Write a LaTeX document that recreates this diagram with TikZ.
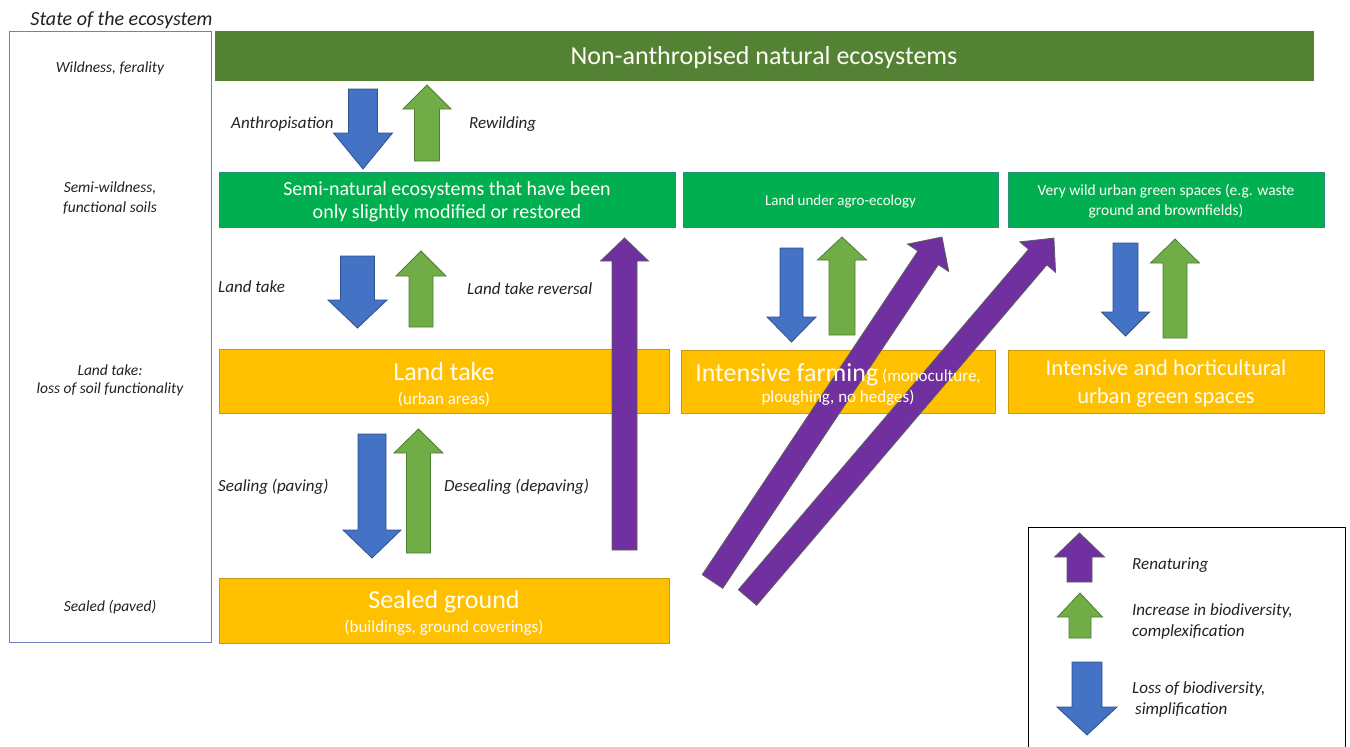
\documentclass[tikz,border=0pt]{standalone}
\usepackage{fontspec}
\setmainfont{Carlito}
\usetikzlibrary{calc}
\definecolor{dkgreen}{HTML}{548235}
\definecolor{mgreen}{HTML}{00B050}
\definecolor{mgreenline}{HTML}{2E8A7A}
\definecolor{amber}{HTML}{FFC000}
\definecolor{amberline}{HTML}{C9980F}
\definecolor{ablue}{HTML}{4472C4}
\definecolor{ablueline}{HTML}{2F528F}
\definecolor{agreen}{HTML}{70AD47}
\definecolor{agreenline}{HTML}{507E32}
\definecolor{apurple}{HTML}{7030A0}
\definecolor{apurpleline}{HTML}{5E5E5E}
\definecolor{sidebox}{HTML}{7080C0}
\definecolor{txtgray}{HTML}{222222}
\definecolor{boxtext}{HTML}{FFFDF5}
% block arrow: #1 style, #2 tail coordinate, #3 tip coordinate,
% #4 shaft half width, #5 head half width, #6 head length
\newcommand\blockarrow[6]{%
  \path let \p1=($(#3)-(#2)$) in \pgfextra{\xdef\bax{\x1}\xdef\bay{\y1}};%
  \pgfmathsetmacro\baL{veclen(\bax,\bay)}%
  \pgfmathsetmacro\baA{atan2(\bay,\bax)}%
  \begin{scope}[shift={(#2)},rotate=\baA,x=1pt,y=1pt]
    \filldraw[#1] (0,-#4) -- ({\baL-#6},-#4) -- ({\baL-#6},-#5) -- (\baL,0)
      -- ({\baL-#6},#5) -- ({\baL-#6},#4) -- (0,#4) -- cycle;
  \end{scope}}
\begin{document}
\begin{tikzpicture}[x=1pt,y=-1pt,
  box/.style={rectangle, inner sep=0pt, line width=0.8pt},
  gbox/.style={box, fill=mgreen, draw=mgreenline},
  ybox/.style={box, fill=amber, draw=amberline},
  btxt/.style={text=boxtext, inner sep=0pt, anchor=base},
  lbl/.style={font=\fontsize{17}{21}\selectfont\itshape, text=txtgray, inner sep=0pt, anchor=base west},
  side/.style={font=\fontsize{15.5}{20}\selectfont\itshape, text=txtgray, inner sep=0pt, anchor=base},
  leg/.style={font=\fontsize{17}{21}\selectfont\itshape, text=txtgray, inner sep=0pt, anchor=base west},
  downarrow/.style={fill=ablue, draw=ablueline, line width=0.8pt},
  uparrow/.style={fill=agreen, draw=agreenline, line width=0.8pt},
  renat/.style={fill=apurple, draw=apurpleline, line width=0.8pt}]
\useasboundingbox (0,0) rectangle (1350,747);
\fill[white] (0,0) rectangle (1350,747);

% left panel
\node[draw=sidebox, line width=1pt, minimum width=202pt, minimum height=611pt, inner sep=0pt] (state) at (110,336.5) {};
\node[font=\fontsize{20}{24}\selectfont\itshape, text=txtgray, inner sep=0pt, anchor=base] (title) at (121.5,25.6) {State of the ecosystem};
\node[side] (s1) at (110,72) {Wildness, ferality};
\node[side] (s2a) at (110,192) {Semi-wildness,};
\node[side] (s2b) at (110,212) {functional soils};
\node[side] (s3a) at (110,375) {Land take:};
\node[side] (s3b) at (110,393) {loss of soil functionality};
\node[side] (s4) at (110,611) {Sealed (paved)};

% boxes
\node[box, fill=dkgreen, draw=dkgreen, minimum width=1098pt, minimum height=49pt] (nat) at (764,55.5) {};
\node[gbox, minimum width=456pt, minimum height=55pt] (semi) at (447,199.5) {};
\node[gbox, minimum width=315pt, minimum height=55pt] (agro) at (840.5,199.5) {};
\node[gbox, minimum width=316pt, minimum height=55pt] (wild) at (1166,199.5) {};
\node[ybox, minimum width=450pt, minimum height=64pt] (take) at (444,381) {};
\node[ybox, minimum width=314pt, minimum height=63pt] (farm) at (838,381.5) {};
\node[ybox, minimum width=316pt, minimum height=63pt] (hort) at (1166,381.5) {};
\node[ybox, minimum width=450pt, minimum height=65pt] (sealed) at (444,610.5) {};

% legend frame
\node[draw=black, line width=1pt, minimum width=317pt, minimum height=240pt, inner sep=0pt] (legend) at (1186.5,647) {};

% arrow end points
\coordinate (a1s) at (363,89);    \coordinate (a1e) at (363,169);
\coordinate (a2s) at (427,161);   \coordinate (a2e) at (427,85);
\coordinate (b1s) at (357.5,256); \coordinate (b1e) at (357.5,328);
\coordinate (b2s) at (421,327);   \coordinate (b2e) at (421,251);
\coordinate (c1s) at (372,434);   \coordinate (c1e) at (372,558);
\coordinate (c2s) at (418.5,553); \coordinate (c2e) at (418.5,429);
\coordinate (d1s) at (791.5,248); \coordinate (d1e) at (791.5,342);
\coordinate (d2s) at (842,335);   \coordinate (d2e) at (842,237);
\coordinate (e1s) at (1125.5,243);\coordinate (e1e) at (1125.5,336);
\coordinate (e2s) at (1175,338);  \coordinate (e2e) at (1175,239);
\coordinate (p1s) at (624.5,550); \coordinate (p1e) at (624.5,238);
\coordinate (p2s) at (712.5,581.5); \coordinate (p2e) at (942,237);
\coordinate (p3s) at (747.5,597.5); \coordinate (p3e) at (1054,238);
\coordinate (l1s) at (1079.5,582); \coordinate (l1e) at (1079.5,533);
\coordinate (l2s) at (1080,638);  \coordinate (l2e) at (1080,593);
\coordinate (l3s) at (1087,662);  \coordinate (l3e) at (1087,735);

\blockarrow{downarrow}{a1s}{a1e}{14.5}{29.5}{36}
\blockarrow{uparrow}{a2s}{a2e}{12.5}{24}{24}
\blockarrow{downarrow}{b1s}{b1e}{17}{29.5}{28}
\blockarrow{uparrow}{b2s}{b2e}{12}{25}{25}
\blockarrow{downarrow}{c1s}{c1e}{14}{29}{28}
\blockarrow{uparrow}{c2s}{c2e}{12}{24.5}{24}
\blockarrow{downarrow}{d1s}{d1e}{11.5}{24.5}{25}
\blockarrow{uparrow}{d2s}{d2e}{13}{24.5}{23}
\blockarrow{downarrow}{e1s}{e1e}{12.5}{24}{24}
\blockarrow{uparrow}{e2s}{e2e}{12}{24.5}{24}
\blockarrow{renat}{p1s}{p1e}{12.5}{24}{23}
\blockarrow{renat}{p2s}{p2e}{12.3}{24.8}{25}
\blockarrow{renat}{p3s}{p3e}{12}{23.5}{25}
\blockarrow{renat}{l1s}{l1e}{12.5}{25}{24}
\blockarrow{uparrow}{l2s}{l2e}{11}{22.5}{24}
\blockarrow{downarrow}{l3s}{l3e}{15}{30}{28}

% box texts
\node[btxt, font=\fontsize{26}{30}\selectfont] (natT) at (764,64) {Non-anthropised natural ecosystems};
\node[btxt, font=\fontsize{20}{24}\selectfont] (semiT1) at (447,195.6) {Semi-natural ecosystems that have been};
\node[btxt, font=\fontsize{20}{24}\selectfont] (semiT2) at (447,218.6) {only slightly modified or restored};
\node[btxt, font=\fontsize{15}{19}\selectfont] (agroT) at (840.5,205) {Land under agro-ecology};
\node[btxt, font=\fontsize{15.5}{20}\selectfont] (wildT1) at (1166,195) {Very wild urban green spaces (e.g. waste};
\node[btxt, font=\fontsize{15.5}{20}\selectfont] (wildT2) at (1166,215) {ground and brownfields)};
\node[btxt, font=\fontsize{26}{30}\selectfont] (takeT1) at (444,380.5) {Land take};
\node[btxt, font=\fontsize{17}{21}\selectfont] (takeT2) at (444,404.6) {(urban areas)};
\node[btxt, font=\fontsize{17}{21}\selectfont] (farmT1) at (838,381.5) {{\fontsize{26}{30}\selectfont Intensive farming} (monoculture,};
\node[btxt, font=\fontsize{17}{21}\selectfont] (farmT2) at (838,402.6) {ploughing, no hedges)};
\node[btxt, font=\fontsize{22.5}{27}\selectfont] (hortT1) at (1166,375.4) {Intensive and horticultural};
\node[btxt, font=\fontsize{22.5}{27}\selectfont] (hortT2) at (1166,403.4) {urban green spaces};
\node[btxt, font=\fontsize{26}{30}\selectfont] (sealedT1) at (444,608.5) {Sealed ground};
\node[btxt, font=\fontsize{17}{21}\selectfont] (sealedT2) at (444,632.6) {(buildings, ground coverings)};

% transition labels
\node[lbl] (la1) at (231,128) {Anthropisation};
\node[lbl] (la2) at (469,128) {Rewilding};
\node[lbl] (lb1) at (218,292.6) {Land take};
\node[lbl] (lb2) at (467,294.6) {Land take reversal};
\node[lbl] (lc1) at (218,491.6) {Sealing (paving)};
\node[lbl] (lc2) at (444,491.6) {Desealing (depaving)};

% legend texts
\node[leg] (g1) at (1132,569.6) {Renaturing};
\node[leg] (g2a) at (1132,615.6) {Increase in biodiversity,};
\node[leg] (g2b) at (1132,636.6) {complexification};
\node[leg] (g3a) at (1132,693.6) {Loss of biodiversity,};
\node[leg] (g3b) at (1135,714.6) {simplification};
\end{tikzpicture}
\end{document}
